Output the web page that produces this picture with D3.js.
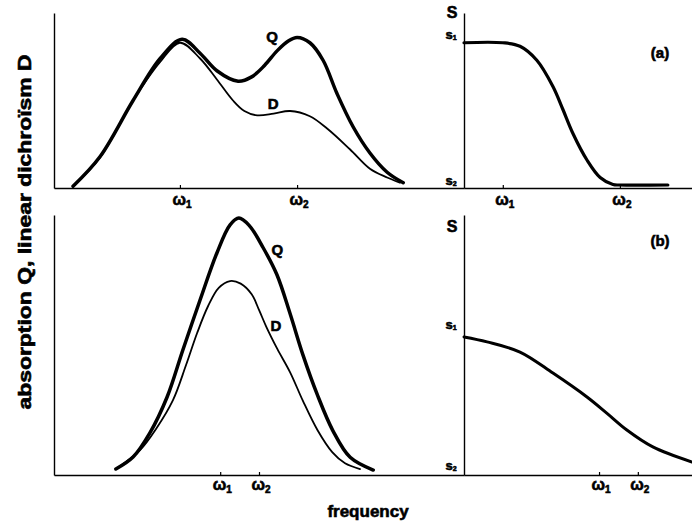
<!DOCTYPE html>
<html>
<head>
<meta charset="utf-8">
<script src="https://cdn.jsdelivr.net/npm/d3@7"></script>
<style>
  body { margin: 0; background: #fff; }
  svg text { font-family: "Liberation Sans", Arial, sans-serif; font-weight: bold; stroke: #000; stroke-width: 0.6px; }
</style>
</head>
<body>
<svg id="chart" width="692" height="522"></svg>
<script>
'use strict'

// --------------------------------------------------------------------
// ------------------------------------------------------- DATA -------

// (a) absorption Q and dichroism D, frequency in arbitrary units
let freqQa = [5.2, 12.6, 21.6, 29.0, 35.0, 39.9, 44.5, 50.3, 54.0, 57.5, 61.0, 64.0, 66.4, 69.9, 73.5, 77.3, 81.7, 86.3, 91.0, 95.4]
let valQa  = [0.01, 0.18, 0.50, 0.74, 0.85, 0.77, 0.67, 0.61, 0.635, 0.70, 0.785, 0.84, 0.86, 0.83, 0.73, 0.54, 0.35, 0.20, 0.09, 0.03]
let freqDa = [5.2, 12.6, 21.6, 29.0, 34.4, 39.9, 44.5, 48.9, 52.0, 55.5, 60.0, 64.5, 69.9, 74.6, 80.9, 86.3, 91.0, 94.5]
let valDa  = [0.01, 0.175, 0.50, 0.72, 0.83, 0.74, 0.62, 0.50, 0.44, 0.415, 0.425, 0.44, 0.41, 0.34, 0.22, 0.11, 0.06, 0.03]

// (a) order parameter S
let freqSa = [23.8, 34.4, 39.1, 43.7, 48.1, 50.8, 53.6, 57.4, 61.0, 64.5, 66.4, 79.5]
let valSa  = [0.83, 0.83, 0.81, 0.73, 0.58, 0.45, 0.31, 0.16, 0.06, 0.02, 0.017, 0.017]

// (b) absorption Q and dichroism D
let freqQb = [16.9, 21.6, 26.2, 30.9, 35.2, 39.9, 44.5, 48.1, 50.5, 53.3, 57.1, 60.9, 64.5, 68.0, 71.9, 76.2, 80.9, 87.2]
let valQb  = [0.023, 0.069, 0.162, 0.300, 0.481, 0.673, 0.854, 0.962, 0.988, 0.96, 0.875, 0.77, 0.62, 0.462, 0.31, 0.17, 0.068, 0.019]
let freqDb = [16.9, 23.5, 28.0, 32.5, 36.0, 39.1, 42.1, 45.0, 48.1, 51.0, 54.0, 56.0, 58.0, 61.0, 64.5, 68.0, 72.0, 76.0, 79.5, 83.6]
let valDb  = [0.023, 0.096, 0.18, 0.288, 0.42, 0.546, 0.65, 0.72, 0.746, 0.736, 0.695, 0.635, 0.57, 0.485, 0.395, 0.285, 0.172, 0.088, 0.045, 0.023]

// (b) order parameter S
let freqSb = [8.5, 14.8, 23.8, 32.8, 42.1, 47.5, 53.0, 60.1, 70.8]
let valSb  = [0.531, 0.512, 0.473, 0.392, 0.300, 0.238, 0.173, 0.108, 0.050]

// characteristic frequencies and S levels
let omegaA = [34.4, 66.4]
let omegaB = [45.4, 56.0]
let sLevelA = [0.83, 0]
let sLevelB = [0.545, 0]
let omegaNames = ['1', '2']
let panelNames = ['(a)', '(b)']

// --------------------------------------------------------------------
// ------------------------------------------ POSITIONNING DATA -------

let svg = d3.select('#chart')

let leftX0 = 54
let splitX = 464
let rightX1 = 692

let rows = [
  { top: 13, bottom: 188, omegaDy: 17, sTop: 18, s1Dy: -4, s2Dy: -3 },
  { top: 215, bottom: 475, omegaDy: 15, sTop: 232, s1Dy: -4, s2Dy: -5 }
]

// left plots share one frequency scale, right plots are shifted copies
let xLeft = d3.scaleLinear().domain([0, 112]).range([leftX0, splitX])
let xRightA = d3.scaleLinear().domain([23.8, 86.1]).range([splitX, rightX1])
let xRightB = d3.scaleLinear().domain([8.5, 70.8]).range([splitX, rightX1])

let yA = d3.scaleLinear().domain([0, 1]).range([rows[0].bottom, rows[0].top])
let yB = d3.scaleLinear().domain([0, 1]).range([rows[1].bottom, rows[1].top])

let line = (x, y) => d3.line()
  .x(d => x(d[0]))
  .y(d => y(d[1]))
  .curve(d3.curveCatmullRom.alpha(0.5))

function drawCurve(x, y, fs, vs, width) {
  svg.append('path')
    .datum(d3.zip(fs, vs))
    .attr('fill', 'none')
    .attr('stroke', '#000')
    .attr('stroke-width', width)
    .attr('stroke-linecap', 'round')
    .attr('stroke-linejoin', 'round')
    .attr('d', line(x, y))
}

// --------------------------------------------------------------------
// ------------------------------------------------- AXIS/GRIDS -------

function xAxis(x, y, omegas, row) {
  let g = svg.append('g')
    .attr('transform', 'translate(0,' + y.range()[0] + ')')
    .call(d3.axisBottom(x).tickValues(omegas).tickSizeInner(-3).tickSizeOuter(0).tickFormat(''))
  g.select('.domain').attr('stroke-width', 1.6)
  g.selectAll('.tick line').attr('stroke-width', 1.2)

  omegas.forEach((w, i) => {
    let t = svg.append('text')
      .attr('x', x(w) + 2)
      .attr('y', y.range()[0] + row.omegaDy)
      .attr('text-anchor', 'middle')
      .attr('font-size', 16)
      .text('ω')
    t.append('tspan')
      .attr('dy', 3)
      .attr('font-size', 10)
      .text(omegaNames[i])
  })
}

function yAxis(x, y) {
  let g = svg.append('g')
    .attr('transform', 'translate(' + x + ',0)')
    .call(d3.axisLeft(y).tickValues([]).tickSizeOuter(0))
  g.select('.domain').attr('stroke-width', 1.4)
}

function sLabels(y, levels, row) {
  svg.append('text')
    .attr('x', splitX - 12)
    .attr('y', row.sTop)
    .attr('text-anchor', 'middle')
    .attr('font-size', 16)
    .text('S')
  levels.forEach((lv, i) => {
    let t = svg.append('text')
      .attr('x', splitX - 13)
      .attr('y', y(lv) + (i == 0 ? row.s1Dy : row.s2Dy))
      .attr('text-anchor', 'middle')
      .attr('font-size', 13)
      .text('s')
    t.append('tspan')
      .attr('dy', 1)
      .attr('font-size', 7)
      .text(omegaNames[i])
  })
}

// --- row (a)
xAxis(xLeft, yA, omegaA, rows[0])
xAxis(xRightA, yA, omegaA, rows[0])
yAxis(leftX0, yA)
yAxis(splitX, yA)
sLabels(yA, sLevelA, rows[0])

// --- row (b)
xAxis(xLeft, yB, omegaB, rows[1])
xAxis(xRightB, yB, omegaB, rows[1])
yAxis(leftX0, yB)
yAxis(splitX, yB)
sLabels(yB, sLevelB, rows[1])

// --------------------------------------------------------------------
// ----------------------------------------------- DISPLAY DATA -------

drawCurve(xLeft, yA, freqDa, valDa, 1.8)
drawCurve(xLeft, yA, freqQa, valQa, 3.5)
drawCurve(xRightA, yA, freqSa, valSa, 3.2)

drawCurve(xLeft, yB, freqDb, valDb, 1.8)
drawCurve(xLeft, yB, freqQb, valQb, 3.5)
drawCurve(xRightB, yB, freqSb, valSb, 3)

// --- curve names
let curveLabels = [
  { t: 'Q', x: xLeft(59.6), y: yA(0.834) },
  { t: 'D', x: xLeft(59.9), y: yA(0.451) },
  { t: 'Q', x: xLeft(61.0), y: yB(0.846) },
  { t: 'D', x: xLeft(60.6), y: yB(0.554) }
]
svg.selectAll('.cname').data(curveLabels).enter()
  .append('text')
    .attr('x', d => d.x)
    .attr('y', d => d.y)
    .attr('text-anchor', 'middle')
    .attr('font-size', 15)
    .text(d => d.t)

// --- panel names
svg.selectAll('.pname').data(panelNames).enter()
  .append('text')
    .attr('x', 660)
    .attr('y', (d, i) => i == 0 ? 58 : 246)
    .attr('text-anchor', 'middle')
    .attr('font-size', 15)
    .text(d => d)

// --- axis titles
svg.append('text')
  .attr('x', 368)
  .attr('y', 517)
  .attr('text-anchor', 'middle')
  .attr('font-size', 17)
  .text('frequency')

svg.append('text')
  .attr('transform', 'translate(31,232) rotate(-90)')
  .attr('text-anchor', 'middle')
  .attr('font-family', '"DejaVu Sans", sans-serif')
  .attr('font-size', 18)
  .attr('textLength', 355)
  .attr('lengthAdjust', 'spacingAndGlyphs')
  .text('absorption Q, linear dichroïsm  D')

</script>
</body>
</html>
